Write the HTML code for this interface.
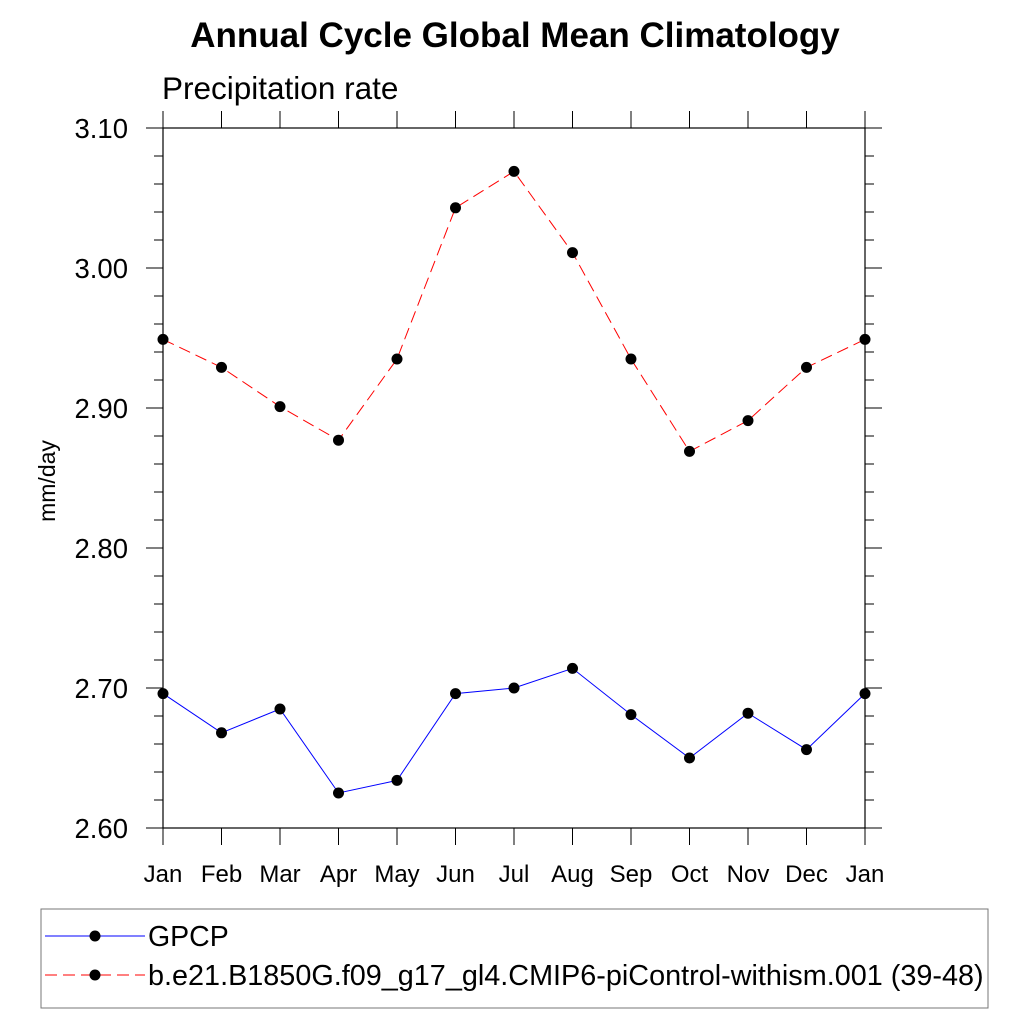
<!DOCTYPE html>
<html><head><meta charset="utf-8"><style>body{margin:0;background:#fff}svg{display:block}text{font-family:"Liberation Sans",sans-serif}</style></head>
<body>
<svg id="chart" width="1024" height="1024" viewBox="0 0 1024 1024">
<text x="515" y="47" text-anchor="middle" font-size="35" font-weight="bold">Annual Cycle Global Mean Climatology</text>
<text x="162" y="99" font-size="31.5">Precipitation rate</text>
<text transform="translate(55,481) rotate(-90)" text-anchor="middle" font-size="23">mm/day</text>
<g id="axes"></g>
<g id="series"></g>
<rect x="41" y="909" width="947" height="99" fill="none" stroke="#777" stroke-width="1"/>
<g>
<line x1="45" y1="936" x2="145" y2="936" stroke="#0000ff" stroke-width="1"/>
<circle cx="95" cy="936" r="5.5" fill="#000"/>
<text x="148" y="946" font-size="28.5">GPCP</text>
</g>
<g>
<line x1="45" y1="975" x2="145" y2="975" stroke="#ff0000" stroke-width="1" stroke-dasharray="12,6"/>
<circle cx="95" cy="975" r="5.5" fill="#000"/>
<text x="148" y="985" font-size="28.8">b.e21.B1850G.f09_g17_gl4.CMIP6-piControl-withism.001 (39-48)</text>
</g>
</svg>
<script>
const months = ["Jan","Feb","Mar","Apr","May","Jun","Jul","Aug","Sep","Oct","Nov","Dec","Jan"];
const gpcp = [2.696,2.668,2.685,2.625,2.634,2.696,2.700,2.714,2.681,2.650,2.682,2.656,2.696];
const model = [2.949,2.929,2.901,2.877,2.935,3.043,3.069,3.011,2.935,2.869,2.891,2.929,2.949];
const yTicks = [2.60,2.70,2.80,2.90,3.00,3.10];
const yTickLabels = ["2.60","2.70","2.80","2.90","3.00","3.10"];
const NS="http://www.w3.org/2000/svg";
const L=163,R=865,T=128,B=828,yMin=2.6,yMax=3.1;
const xS=i=>L+(R-L)*i/(months.length-1);
const yS=v=>B-(v-yMin)/(yMax-yMin)*(B-T);
function mk(tag,attrs,parent){const e=document.createElementNS(NS,tag);for(const k in attrs)e.setAttribute(k,attrs[k]);parent.appendChild(e);return e;}
const ax=document.getElementById('axes');
const frame=mk('rect',{x:L,y:T,width:R-L,height:B-T,fill:'none',stroke:'#000','stroke-width':1.2},ax);


months.forEach((m,i)=>{
 const x=xS(i);
 mk('line',{x1:x,y1:B,x2:x,y2:B+17,stroke:'#000'},ax);
 mk('line',{x1:x,y1:T,x2:x,y2:T-17,stroke:'#000'},ax);
 const t=mk('text',{x:x,y:B+54,'text-anchor':'middle','font-size':24},ax);
 t.textContent=m;
 
 
});
for(let v=yMin;v<=yMax+1e-9;v+=0.02){
 const y=yS(v);const major=Math.abs(Math.round(v*10)/10-v)<1e-6;const len=major?17:9;
 mk('line',{x1:L-len,y1:y,x2:L,y2:y,stroke:'#000'},ax);
 mk('line',{x1:R,y1:y,x2:R+len,y2:y,stroke:'#000'},ax);
}
yTicks.forEach((v,i)=>{
 const t=mk('text',{x:128,y:yS(v)+10,'text-anchor':'end','font-size':27.5},ax);
 t.textContent=yTickLabels[i];
 
 
});
const sg=document.getElementById('series');
function drawSeries(vals,color,dash,name){
 const g=mk('g',{},sg);
 
 
 const pts=vals.map((v,i)=>xS(i)+','+yS(v)).join(' ');
 const a={points:pts,fill:'none',stroke:color,'stroke-width':1};if(dash)a['stroke-dasharray']=dash;
 mk('polyline',a,g);
 vals.forEach((v,i)=>{
  const c=mk('circle',{cx:xS(i),cy:yS(v),r:5.5,fill:'#000'},g);
  
  
 });
}
drawSeries(gpcp,'#0000ff',null,'series-gpcp');
drawSeries(model,'#ff0000','12,6','series-model');
</script>
</body></html>
